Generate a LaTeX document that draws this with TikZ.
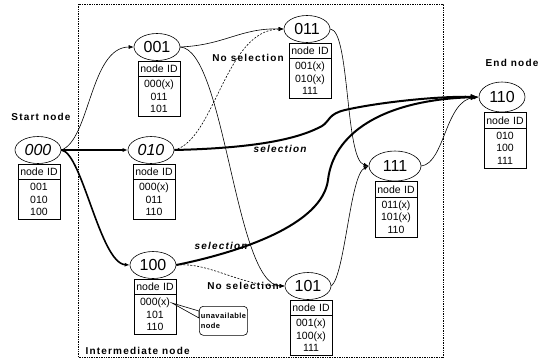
\documentclass[tikz,border=0pt]{standalone}
\usepackage{fontspec}
\setmainfont{Liberation Sans}
\newfontfamily\lblfont{Liberation Sans}[LetterSpace=12]
\newfontfamily\notefont{Liberation Sans}[LetterSpace=6]
\usetikzlibrary{positioning,shapes.geometric,shapes.multipart,arrows.meta}

\begin{document}
\begin{tikzpicture}[x=1pt,y=-1pt]
    \tikzset{
      idnode/.style={ellipse, draw, line width=0.6pt, minimum width=46pt,
        minimum height=27pt, inner sep=0pt,
        font=\fontsize{16}{16}\selectfont},
      idtab/.style={rectangle split, rectangle split parts=2, draw,
        line width=0.6pt, align=center, text width=38pt, inner xsep=2pt,
        inner ysep=3.5pt, fill=white, font=\fontsize{10.5}{12.5}\selectfont},
      tag/.style={font=\lblfont\bfseries\fontsize{10}{12}\selectfont},
      seltag/.style={font=\lblfont\bfseries\itshape\fontsize{10}{12}\selectfont},
      callbox/.style={draw, line width=0.6pt, rounded corners=4pt,
        align=left, inner xsep=1.5pt, inner ysep=2pt, minimum height=29pt,
        minimum width=45pt, font=\notefont\bfseries\fontsize{7.5}{10.5}\selectfont},
      link/.style={line width=0.6pt, -{Latex[length=5pt,width=4pt]}},
      sel/.style={line width=2pt, -{Latex[length=8pt,width=6pt]}},
      nosel/.style={line width=0.6pt, dash pattern=on 2pt off 1.5pt,
        -{Latex[length=5pt,width=4pt]}},
    }
    \useasboundingbox (0,0) rectangle (545,360);
    % intermediate region
    \draw[densely dotted, line width=0.7pt] (78,4) rectangle (443,357);

    % the eight nodes
    \node[idnode] (e000) at (38,150) {\itshape 000};
    \node[idnode] (e001) at (157,47) {001};
    \node[idnode] (e010) at (151,150) {\itshape 010};
    \node[idnode] (e100) at (153,265) {100};
    \node[idnode] (e011) at (307,29) {011};
    \node[idnode] (e101) at (308,286) {101};
    \node[idnode, minimum width=52pt, minimum height=30pt] (e111) at (395,166) {111};
    \node[idnode, minimum height=30pt] (e110) at (502,97) {110};

    % neighbour tables
    \node[idtab, below=0pt of e000, xshift=1pt] (t000) {node ID\nodepart{two}001\\010\\100};
    \node[idtab, below=0pt of e001, xshift=2pt] (t001) {node ID\nodepart{two}000(x)\\011\\101};
    \node[idtab, below=0pt of e010, xshift=3pt] (t010) {node ID\nodepart{two}000(x)\\011\\110};
    \node[idtab, below=0pt of e100, xshift=2pt] (t100) {node ID\nodepart{two}000(x)\\101\\110};
    \node[idtab, below=0pt of e011, xshift=3pt] (t011) {node ID\nodepart{two}001(x)\\010(x)\\111};
    \node[idtab, below=0pt of e101, xshift=3pt] (t101) {node ID\nodepart{two}001(x)\\100(x)\\111};
    \node[idtab, below=0pt of e111, xshift=1pt] (t111) {node ID\nodepart{two}011(x)\\101(x)\\110};
    \node[idtab, below=0pt of e110, xshift=3pt] (t110) {node ID\nodepart{two}010\\100\\111};

    % labels
    \node[tag] (startlbl) at (41,117) {Start node};
    \node[tag] (endlbl) at (512,63) {End node};
    \node[tag, anchor=west] (midlbl) at (82,351) {Intermediate node};
    \node[tag] (nosel1) at (248,58) {No selection};
    \node[tag] (nosel2) at (243,286) {No selection};
    \node[seltag] (sel1) at (280,149) {selection};
    \node[seltag] (sel2) at (221,246) {selection};

    % links
    \draw[link] (e000.east) .. controls (90,140) and (90,47) .. (e001.west);
    \draw[link, line width=1.2pt] (e000.east) -- (e010.west);
    \draw[link, line width=1.6pt] (e000.east) .. controls (82,152) and (100,263) .. (e100.west);
    \draw[link] (e001.east) .. controls (225,45) and (240,28) .. (e011.west);
    \draw[link] (e001.east) .. controls (225,50) and (235,285) .. (e101.west);
    \draw[nosel] (e010.east) .. controls (215,140) and (225,30) .. (e011.west);
    \draw[nosel] (e100.east) .. controls (210,262) and (240,286) .. (e101.west);
    \draw[link] (e011.east) .. controls (350,30) and (345,160) .. (e111.west);
    \draw[link] (e101.east) .. controls (345,275) and (350,175) .. (e111.west);
    \draw[link] (e111.east) .. controls (445,163) and (445,100) .. (e110.west);
    % chosen routes
    \draw[sel] (e010.east) .. controls (260,148) and (300,138) .. (322,126)
      .. controls (330,121) and (328,114) .. (345,110)
      .. controls (380,102) and (440,96) .. (e110.west);
    \draw[sel] (e100.east) .. controls (240,252) and (322,225) .. (328,180)
      .. controls (333,135) and (380,100) .. (e110.west);

    % callout
    \node[callbox, anchor=north west] (note) at (199,306) {unavailable\\node};
    \coordinate (tip) at (172,303);
    \draw[line width=0.6pt, fill=white] (tip) -- ([yshift=-5pt]note.north west)
      -- ([yshift=-12pt]note.north west) -- cycle;
\end{tikzpicture}
\end{document}
